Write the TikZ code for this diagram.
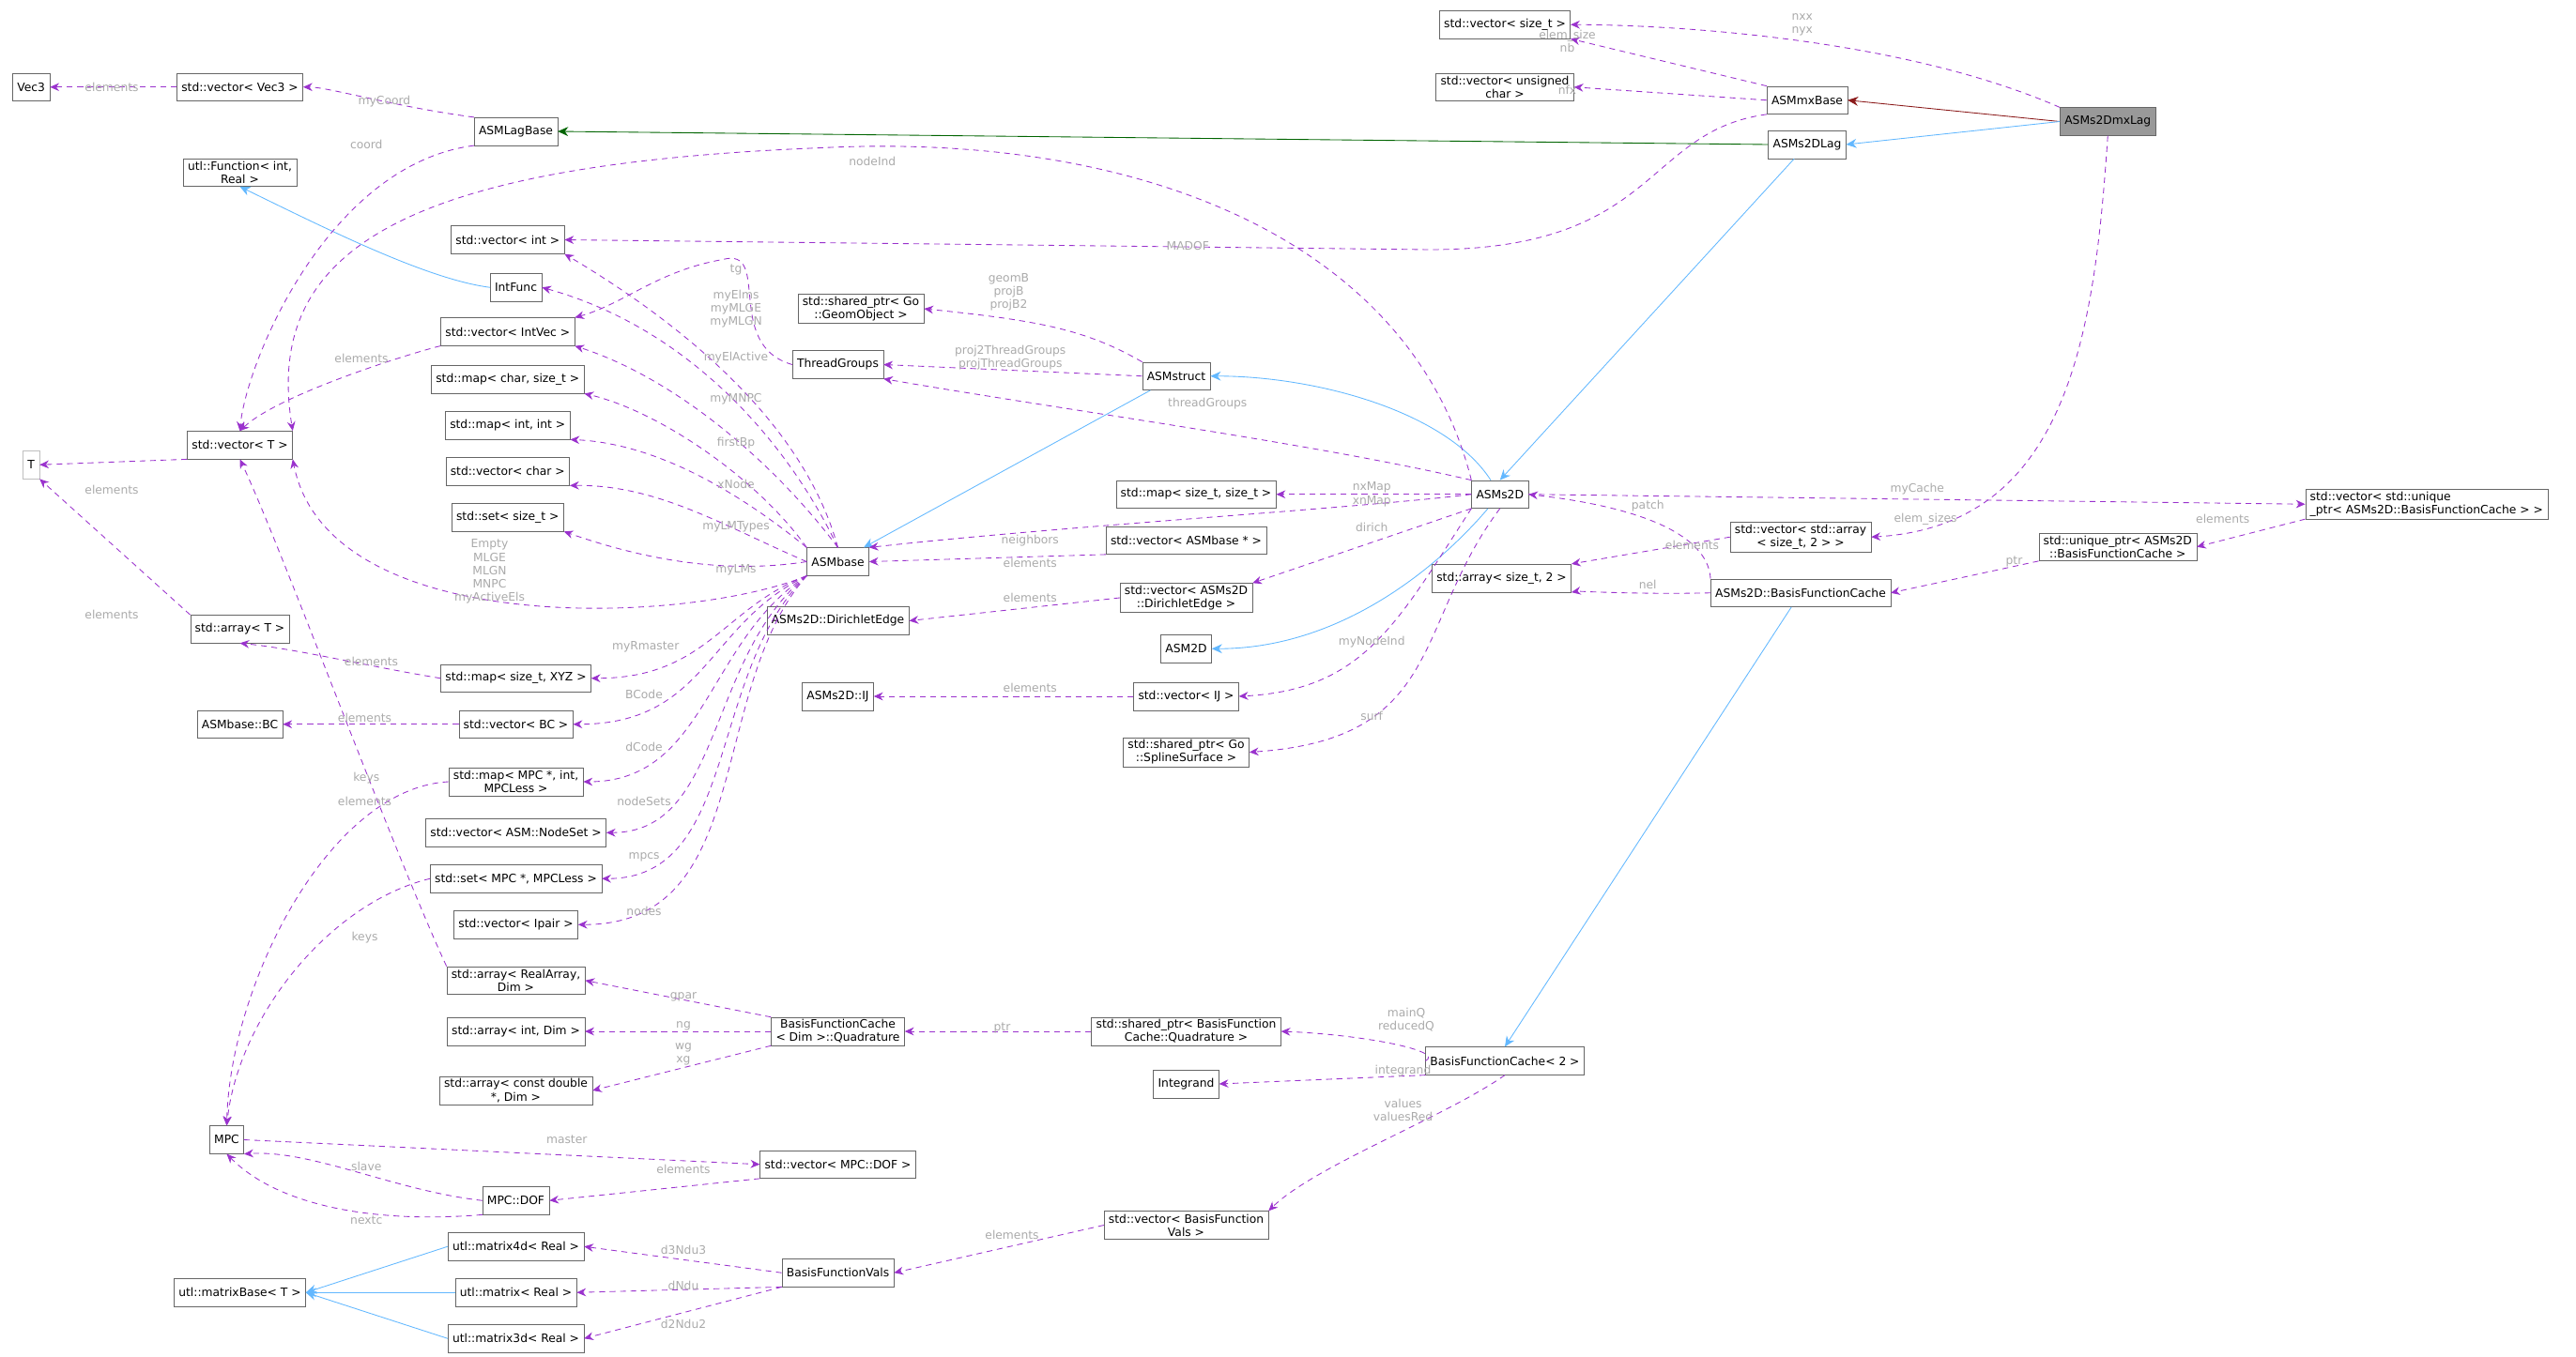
\documentclass[tikz,border=0pt]{standalone}
\usepackage{fontspec}
\setmainfont{DejaVu Sans}
\usetikzlibrary{arrows.meta}
\definecolor{pur}{HTML}{9A32CD}
\definecolor{lb}{HTML}{63B8FF}
\definecolor{dr}{HTML}{8B1A1A}
\definecolor{dg}{HTML}{006400}
\definecolor{lg}{HTML}{AAAAAA}
\begin{document}
\begin{tikzpicture}[x=0.05cm,y=-0.05cm,
 box/.style={draw=black!60,fill=white,font=\fontsize{10}{11.5}\selectfont,inner xsep=4pt,inner ysep=2pt,minimum height=0.85cm,align=center},
 lbl/.style={text=lg,font=\fontsize{10}{11.5}\selectfont,align=center,inner sep=1pt},
 use/.style={pur,dashed,dash pattern=on 5pt off 4pt,line width=0.7pt,-{Stealth[length=8pt,width=7pt]}},
 inh/.style={lb,line width=0.7pt,-{Stealth[length=9pt,width=8pt]}}]
\useasboundingbox (0,0) rectangle (1568,826);
% nodes
\node[box] (vecSizeT) at (916,15) {std::vector< size\_t >};
\node[box] (vecUChar) at (916,53) {std::vector< unsigned\\char >};
\node[box] (ASMmxBase) at (1100,61) {ASMmxBase};
\node[box,fill=black!40] (mxLag) at (1283,74) {ASMs2DmxLag};
\node[box] (ASMs2DLag) at (1100,88) {ASMs2DLag};
\node[box] (ASMLagBase) at (314,80) {ASMLagBase};
\node[box] (Vec3) at (19,53) {Vec3};
\node[box] (vecVec3) at (146,53) {std::vector< Vec3 >};
\node[box] (utlFunc) at (146,105) {utl::Function< int,\\Real >};
\node[box] (vecInt) at (309,146) {std::vector< int >};
\node[box] (IntFunc) at (314,175) {IntFunc};
\node[box] (vecIntVec) at (309,202) {std::vector< IntVec >};
\node[box] (shpGeom) at (524,188) {std::shared\_ptr< Go\\::GeomObject >};
\node[box] (ThreadGroups) at (510,222) {ThreadGroups};
\node[box] (ASMstruct) at (716,229) {ASMstruct};
\node[box] (mapCharSz) at (309,231) {std::map< char, size\_t >};
\node[box] (vecT) at (146,271) {std::vector< T >};
\node[box] (mapIntInt) at (309,259) {std::map< int, int >};
\node[box] (mapSzSz) at (728,301) {std::map< size\_t, size\_t >};
\node[box] (ASMs2D) at (913,301) {ASMs2D};
\node[box,align=left] (vecCF) at (1477,307) {std::vector< std::unique\\\_ptr< ASMs2D::BasisFunctionCache > >};
\node[box] (vecChar) at (309,287) {std::vector< char >};
\node[box] (setSz) at (309,315) {std::set< size\_t >};
\node[box] (vecASMbase) at (722,329) {std::vector< ASMbase * >};
\node[box] (ASMbase) at (510,342) {ASMbase};
\node[box] (vecArr) at (1096,327) {std::vector< std::array\\< size\_t, 2 > >};
\node[box] (uniqCF) at (1289,333) {std::unique\_ptr< ASMs2D\\::BasisFunctionCache >};
\node[box] (arrSz2) at (914,352) {std::array< size\_t, 2 >};
\node[box] (BFCa) at (1096,361) {ASMs2D::BasisFunctionCache};
\node[box,draw=black!25] (T) at (19,283) {T};
\node[box] (vecDir) at (722,364) {std::vector< ASMs2D\\::DirichletEdge >};
\node[box] (DirEdge) at (510,378) {ASMs2D::DirichletEdge};
\node[box] (arrT) at (146,383) {std::array< T >};
\node[box] (mapSzXYZ) at (314,413) {std::map< size\_t, XYZ >};
\node[box] (ASM2D) at (722,395) {ASM2D};
\node[box] (vecIJ) at (722,424) {std::vector< IJ >};
\node[box] (IJ) at (510,424) {ASMs2D::IJ};
\node[box] (BC) at (146,441) {ASMbase::BC};
\node[box] (vecBC) at (314,441) {std::vector< BC >};
\node[box] (mapMPC) at (314,476) {std::map< MPC *, int,\\MPCLess >};
\node[box] (shpSpline) at (722,458) {std::shared\_ptr< Go\\::SplineSurface >};
\node[box] (vecNodeSet) at (314,507) {std::vector< ASM::NodeSet >};
\node[box] (setMPC) at (314,535) {std::set< MPC *, MPCLess >};
\node[box] (vecIpair) at (314,563) {std::vector< Ipair >};
\node[box] (arrRealArr) at (314,597) {std::array< RealArray,\\Dim >};
\node[box] (BFCQ) at (510,628) {BasisFunctionCache\\< Dim >::Quadrature};
\node[box] (arrIntDim) at (314,628) {std::array< int, Dim >};
\node[box] (shpBFCQ) at (722,628) {std::shared\_ptr< BasisFunction\\Cache::Quadrature >};
\node[box] (BFC2) at (916,646) {BasisFunctionCache< 2 >};
\node[box] (Integrand) at (722,660) {Integrand};
\node[box] (arrConstD) at (314,664) {std::array< const double\\*, Dim >};
\node[box] (MPC) at (138,694) {MPC};
\node[box] (vecMPCDOF) at (510,709) {std::vector< MPC::DOF >};
\node[box] (MPCDOF) at (314,731) {MPC::DOF};
\node[box] (vecBFV) at (722,746) {std::vector< BasisFunction\\Vals >};
\node[box] (mat4d) at (314,759) {utl::matrix4d< Real >};
\node[box] (BFV) at (510,775) {BasisFunctionVals};
\node[box] (matBase) at (146,787) {utl::matrixBase< T >};
\node[box] (mat) at (314,787) {utl::matrix< Real >};
\node[box] (mat3d) at (314,815) {utl::matrix3d< Real >};
% inheritance
\draw[dr,line width=0.7pt,-{Stealth[length=9pt,width=8pt]}] (mxLag.west) -- (ASMmxBase.east);
\draw[inh] (mxLag.west) -- (ASMs2DLag.east);
\draw[dg,line width=0.7pt,-{Stealth[length=9pt,width=8pt]}] (ASMs2DLag.west) -- (ASMLagBase.east);
\draw[inh] (ASMs2DLag) -- (ASMs2D.north);
\draw[inh] (IntFunc.west) .. controls (260,170) and (200,140) .. (utlFunc.south);
\draw[inh] (ASMs2D) .. controls (880,250) and (800,229) .. (ASMstruct.east);
\draw[inh] (ASMstruct) -- (ASMbase);
\draw[inh] (ASMs2D) .. controls (880,340) and (820,395) .. (ASM2D.east);
\draw[inh] (BFCa) -- (BFC2.north);
\draw[inh] (mat4d.west) -- (matBase.east);
\draw[inh] (mat.west) -- (matBase.east);
\draw[inh] (mat3d.west) -- (matBase.east);
% usage
\draw[use] (mxLag.north west) .. controls (1150,20) and (1000,15) .. (vecSizeT.east);
\draw[use] (ASMmxBase.north west) -- (vecSizeT.south east);
\draw[use] (ASMmxBase.west) -- (vecUChar.east);
\draw[use] (ASMmxBase.south west) .. controls (1000,80) and (1010,152) .. (870,152) -- (vecInt.east);
\draw[use] (mxLag.south) .. controls (1275,200) and (1260,320) .. (vecArr.east);
\draw[use] (ASMLagBase.south west) .. controls (200,100) and (150,220) .. (vecT.north);
\draw[use] (ASMLagBase.north west) .. controls (240,65) and (200,53) .. (vecVec3.east);
\draw[use] (vecVec3.west) -- (Vec3.east);
\draw[use] (ASMs2D.north west) .. controls (860,150) and (700,80) .. (500,90) .. controls (250,100) and (160,150) .. (vecT.north east);
\draw[use] (ASMstruct.north west) .. controls (660,200) and (630,195) .. (shpGeom.east);
\draw[use] (ASMstruct.west) -- (ThreadGroups.east);
\draw[use] (ASMs2D.north west) .. controls (800,270) and (650,250) .. (ThreadGroups.south east);
\draw[use] (ThreadGroups.west) .. controls (440,210) and (470,150) .. (440,158) .. controls (400,165) and (380,185) .. (vecIntVec.north east);
\draw[use] (ASMbase.north) .. controls (490,260) and (420,200) .. (vecInt.south east);
\draw[use] (ASMbase.north) .. controls (480,270) and (420,200) .. (IntFunc.east);
\draw[use] (ASMbase.north) .. controls (470,280) and (410,230) .. (vecIntVec.south east);
\draw[use] (ASMbase.north west) .. controls (460,290) and (400,250) .. (mapCharSz.south east);
\draw[use] (ASMbase.north west) .. controls (450,300) and (400,270) .. (mapIntInt.south east);
\draw[use] (ASMbase.west) .. controls (440,320) and (400,295) .. (vecChar.south east);
\draw[use] (ASMbase.west) .. controls (440,350) and (390,340) .. (setSz.south east);
\draw[use] (ASMbase.south west) .. controls (420,380) and (200,390) .. (vecT.south east);
\draw[use] (vecIntVec.south west) .. controls (250,215) and (170,240) .. (vecT.north);
\draw[use] (vecT.south west) -- (T.east);
\draw[use] (arrT.north west) -- (T.south east);
\draw[use] (mapSzXYZ.west) .. controls (220,405) and (180,395) .. (arrT.south);
\draw[use] (ASMbase.south west) .. controls (440,370) and (430,413) .. (mapSzXYZ.east);
\draw[use] (ASMbase.south west) .. controls (430,380) and (430,441) .. (vecBC.east);
\draw[use] (vecBC.west) -- (BC.east);
\draw[use] (ASMbase.south west) .. controls (430,390) and (430,476) .. (mapMPC.east);
\draw[use] (ASMbase.south west) .. controls (430,400) and (440,507) .. (vecNodeSet.east);
\draw[use] (ASMbase.south west) .. controls (430,410) and (450,535) .. (setMPC.east);
\draw[use] (ASMbase.south west) .. controls (430,420) and (460,563) .. (vecIpair.east);
\draw[use] (mapMPC.west) .. controls (200,480) and (140,600) .. (MPC.north);
\draw[use] (setMPC.west) .. controls (200,550) and (145,620) .. (MPC.north);
\draw[use] (arrRealArr.north west) .. controls (240,520) and (170,330) .. (vecT.south);
\draw[use] (vecASMbase.south west) -- (ASMbase.east);
\draw[use] (ASMs2D.west) .. controls (820,310) and (650,320) .. (ASMbase.north east);
\draw[use] (vecDir.west) -- (DirEdge.east);
\draw[use] (ASMs2D.south west) -- (vecDir.north east);
\draw[use] (ASMs2D.west) -- (mapSzSz.east);
\draw[use] (ASMs2D.south west) .. controls (850,380) and (830,420) .. (vecIJ.east);
\draw[use] (vecIJ.west) -- (IJ.east);
\draw[use] (ASMs2D.south) .. controls (860,380) and (880,450) .. (shpSpline.east);
\draw[use] (ASMs2D.east) -- (vecCF.west);
\draw[use] (vecCF.south west) -- (uniqCF.east);
\draw[use] (uniqCF.south west) -- (BFCa.east);
\draw[use] (BFCa.north west) .. controls (1040,330) and (1010,310) .. (ASMs2D.east);
\draw[use] (BFCa.west) .. controls (1000,362) and (960,360) .. (arrSz2.south east);
\draw[use] (vecArr.west) -- (arrSz2.north east);
\draw[use] (BFC2.west) .. controls (880,640) and (830,630) .. (shpBFCQ.east);
\draw[use] (BFC2.south west) -- (Integrand.east);
\draw[use] (BFC2.south) .. controls (880,680) and (800,710) .. (vecBFV.north east);
\draw[use] (shpBFCQ.west) -- (BFCQ.east);
\draw[use] (BFCQ.north west) -- (arrRealArr.east);
\draw[use] (BFCQ.west) -- (arrIntDim.east);
\draw[use] (BFCQ.south west) -- (arrConstD.east);
\draw[use] (MPC.east) -- (vecMPCDOF.west);
\draw[use] (vecMPCDOF.south west) -- (MPCDOF.east);
\draw[use] (MPCDOF.west) .. controls (240,725) and (190,700) .. (MPC.south east);
\draw[use] (MPCDOF.south west) .. controls (230,745) and (170,735) .. (MPC.south);
\draw[use] (vecBFV.west) -- (BFV.east);
\draw[use] (BFV.west) -- (mat4d.east);
\draw[use] (BFV.south west) -- (mat.east);
\draw[use] (BFV.south west) -- (mat3d.east);
% labels
\node[lbl] (l1) at (1097,15) {nxx\\nyx};
\node[lbl] (l2) at (954,25) {elem\_size\\nb};
\node[lbl] (l3) at (954,55) {nfx};
\node[lbl] (l4) at (723,150) {MADOF};
\node[lbl] (l5) at (531,98) {nodeInd};
\node[lbl] (l6) at (223,88) {coord};
\node[lbl] (l7) at (234,62) {myCoord};
\node[lbl] (l8) at (68,53) {elements};
\node[lbl] (l9) at (448,164) {tg};
\node[lbl] (l10) at (448,188) {myElms\\myMLGE\\myMLGN};
\node[lbl] (l11) at (448,218) {myElActive};
\node[lbl] (l12) at (448,243) {myMNPC};
\node[lbl] (l13) at (448,270) {firstBp};
\node[lbl] (l14) at (448,295) {xNode};
\node[lbl] (l15) at (448,321) {myLMTypes};
\node[lbl] (l16) at (448,347) {myLMs};
\node[lbl] (l17) at (298,348) {Empty\\MLGE\\MLGN\\MNPC\\myActiveEls};
\node[lbl] (l18) at (220,218) {elements};
\node[lbl] (l19) at (68,298) {elements};
\node[lbl] (l20) at (68,374) {elements};
\node[lbl] (l21) at (226,403) {elements};
\node[lbl] (l22) at (614,178) {geomB\\projB\\projB2};
\node[lbl] (l23) at (615,218) {proj2ThreadGroups\\projThreadGroups};
\node[lbl] (l24) at (735,246) {threadGroups};
\node[lbl] (l25) at (835,301) {nxMap\\xnMap};
\node[lbl] (l26) at (835,321) {dirich};
\node[lbl] (l27) at (627,329) {neighbors};
\node[lbl] (l28) at (627,343) {elements};
\node[lbl] (l29) at (627,364) {elements};
\node[lbl] (l30) at (835,391) {myNodeInd};
\node[lbl] (l31) at (627,419) {elements};
\node[lbl] (l32) at (835,436) {surf};
\node[lbl] (l33) at (1167,298) {myCache};
\node[lbl] (l34) at (1172,316) {elem\_sizes};
\node[lbl] (l35) at (1003,308) {patch};
\node[lbl] (l36) at (1030,332) {elements};
\node[lbl] (l37) at (1003,356) {nel};
\node[lbl] (l38) at (1226,342) {ptr};
\node[lbl] (l39) at (1353,316) {elements};
\node[lbl] (l40) at (393,394) {myRmaster};
\node[lbl] (l41) at (392,423) {BCode};
\node[lbl] (l42) at (392,455) {dCode};
\node[lbl] (l43) at (392,488) {nodeSets};
\node[lbl] (l44) at (392,522) {mpcs};
\node[lbl] (l45) at (392,555) {nodes};
\node[lbl] (l46) at (223,474) {keys};
\node[lbl] (l47) at (222,488) {elements};
\node[lbl] (l48) at (222,571) {keys};
\node[lbl] (l49) at (222,437) {elements};
\node[lbl] (l50) at (416,607) {gpar};
\node[lbl] (l51) at (416,625) {ng};
\node[lbl] (l52) at (416,642) {wg\\xg};
\node[lbl] (l53) at (610,626) {ptr};
\node[lbl] (l54) at (856,621) {mainQ\\reducedQ};
\node[lbl] (l55) at (854,652) {integrand};
\node[lbl] (l56) at (854,676) {values\\valuesRed};
\node[lbl] (l57) at (616,752) {elements};
\node[lbl] (l58) at (345,694) {master};
\node[lbl] (l59) at (416,712) {elements};
\node[lbl] (l60) at (223,710) {slave};
\node[lbl] (l61) at (223,743) {nextc};
\node[lbl] (l62) at (416,761) {d3Ndu3};
\node[lbl] (l63) at (416,783) {dNdu};
\node[lbl] (l64) at (416,806) {d2Ndu2};
\end{tikzpicture}
\end{document}
